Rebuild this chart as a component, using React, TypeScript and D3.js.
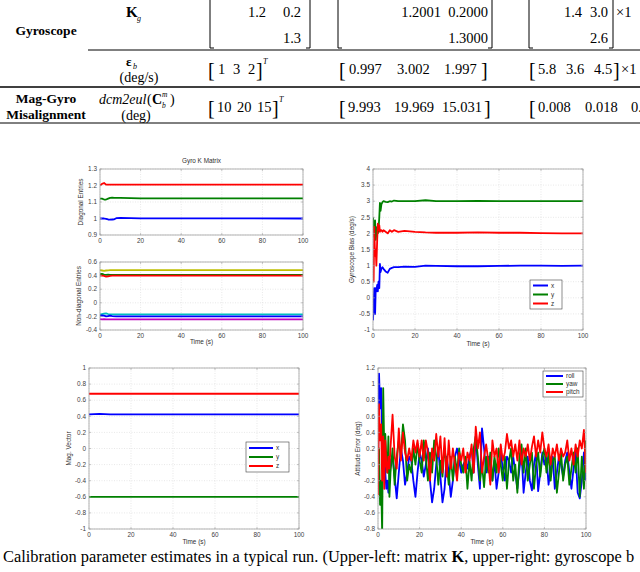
import React from "react";
import * as d3 from "d3";

// ---------- Table content ----------
const tableK1 = ["1.2", "0.2", "1.3"];
const tableK2 = ["1.2001", "0.2000", "1.3000"];
const tableK3 = ["1.4", "3.0", "2.6"];
const epsTrue = ["1", "3", "2"];
const epsEst = ["0.997", "3.002", "1.997"];
const epsErr = ["5.8", "3.6", "4.5"];
const misTrue = ["10", "20", "15"];
const misEst = ["9.993", "19.969", "15.031"];
const misErr = ["0.008", "0.018", "0.0"];
const captionText = ["Calibration parameter estimates in a typical run. (Upper-left: matrix ", "K", ", upper-right: gyroscope b"];

// ---------- Gyro K matrix: diagonal ----------
const diagTime = [0, 1, 2, 3, 4, 5, 6, 7, 8, 10, 15, 20, 100];
const diagBlue = [1.0, 1.0, 1.0, 0.997, 0.994, 0.993, 0.994, 0.995, 1.002, 1.003, 1.002, 1.001, 1.0];
const diagGreen = [1.12, 1.12, 1.115, 1.115, 1.12, 1.125, 1.127, 1.125, 1.125, 1.125, 1.123, 1.122, 1.122];
const diagRed = [1.2, 1.21, 1.215, 1.205, 1.205, 1.205, 1.205, 1.205, 1.205, 1.205, 1.205, 1.205, 1.205];

// ---------- Gyro K matrix: off-diagonal ----------
const offTime = [0, 1, 2, 3, 4, 5, 6, 8, 10, 20, 100];
const offYellow = [0.48, 0.475, 0.47, 0.475, 0.478, 0.48, 0.48, 0.48, 0.48, 0.48, 0.48];
const offGreen = [0.42, 0.425, 0.415, 0.41, 0.415, 0.412, 0.41, 0.41, 0.41, 0.41, 0.41];
const offRed = [0.4, 0.4, 0.395, 0.385, 0.39, 0.395, 0.4, 0.4, 0.4, 0.4, 0.4];
const offCyan = [-0.17, -0.165, -0.16, -0.155, -0.165, -0.17, -0.17, -0.17, -0.17, -0.17, -0.17];
const offBlue = [-0.19, -0.185, -0.19, -0.2, -0.195, -0.19, -0.195, -0.2, -0.2, -0.2, -0.2];
const offMagenta = [-0.24, -0.245, -0.24, -0.245, -0.245, -0.245, -0.245, -0.245, -0.245, -0.245, -0.245];

// ---------- Gyroscope bias ----------
const biasTime = [0, 0.3, 0.6, 1, 1.3, 1.6, 2, 2.3, 2.6, 3, 3.3, 3.6, 4, 4.5, 5, 6, 7, 8, 9, 10, 12, 15, 20, 25, 30, 40, 50, 60, 70, 80, 90, 100];
const biasX = [-0.7, -0.2, 0.3, -0.5, 0.3, 0.2, 0.4, 0.2, 0.5, 0.3, 1.05, 0.8, 0.9, 0.95, 0.9, 0.82, 0.78, 0.9, 0.93, 0.95, 0.95, 0.97, 0.96, 1.0, 0.99, 0.98, 0.98, 0.99, 1.0, 1.0, 0.99, 1.0];
const biasY = [2.5, 2.3, 1.9, 2.4, 1.8, 2.0, 2.2, 2.0, 2.1, 2.5, 2.95, 2.7, 2.9, 2.97, 3.0, 2.98, 2.97, 3.0, 2.99, 3.02, 3.0, 3.0, 3.0, 3.03, 3.0, 3.0, 3.01, 3.0, 3.0, 3.0, 3.0, 3.0];
const biasZ = [1.0, 0.5, 2.2, 1.3, 1.5, 1.0, 1.8, 2.3, 2.1, 2.25, 2.05, 2.1, 2.1, 2.05, 2.1, 2.05, 2.0, 2.1, 2.05, 2.1, 2.05, 2.08, 2.05, 2.03, 2.02, 2.02, 2.03, 2.02, 2.02, 2.01, 2.0, 2.0];

// ---------- Mag vector ----------
const magTime = [0, 5, 10, 100];
const magX = [0.425, 0.43, 0.425, 0.425];
const magY = [-0.6, -0.6, -0.6, -0.6];
const magZ = [0.68, 0.68, 0.68, 0.68];

// ---------- Attitude error ----------
const attTime = [0, 0.5, 1, 1.5, 2, 2.5, 3, 3.5, 4, 4.5, 5, 5.5, 6,
  7, 8, 9, 10, 11, 12, 13, 14, 15, 16, 17, 18, 19, 20, 21, 22, 23, 24, 25, 26, 27, 28, 29, 30,
  31, 32, 33, 34, 35, 36, 37, 38, 39, 40, 41, 42, 43, 44, 45, 46, 47, 48, 49, 50,
  51, 52, 53, 54, 55, 56, 57, 58, 59, 60, 61, 62, 63, 64, 65, 66, 67, 68, 69, 70,
  71, 72, 73, 74, 75, 76, 77, 78, 79, 80, 81, 82, 83, 84, 85, 86, 87, 88, 89, 90,
  91, 92, 93, 94, 95, 96, 97, 98, 99, 100];
const attRoll = [0.0, 1.13, 0.7, 0.95, 0.4, 0.1, 0.3, -0.1, -0.3, -0.2, -0.35, -0.2, 0.05,
  0.1, -0.15, -0.42, -0.1, 0.2, 0.05, -0.25, -0.1, 0.1, 0.05, -0.2, -0.4, -0.1, 0.15, 0.05, -0.15, 0.0, 0.2, -0.2, -0.47, -0.3, 0.0, 0.2, -0.15,
  -0.47, -0.3, 0.1, -0.1, -0.4, -0.2, 0.1, 0.2, 0.05, -0.1, 0.0, 0.05, -0.05, 0.1, 0.2, -0.1, 0.35, 0.0, -0.3, 0.45,
  0.2, -0.1, 0.1, 0.0, -0.2, 0.05, -0.3, -0.1, 0.15, -0.05, -0.2, 0.1, 0.05, -0.1, 0.1, -0.1, -0.3, -0.05, 0.15, -0.35,
  -0.1, 0.1, -0.2, -0.32, 0.0, 0.15, -0.33, -0.1, 0.15, 0.0, 0.1, -0.25, -0.05, 0.1, -0.3, -0.1, 0.1, 0.0, -0.15, 0.05,
  0.15, -0.1, -0.3, -0.05, 0.15, -0.35, -0.42, -0.2, 0.15, -0.2];
const attYaw = [0.0, 0.2, -0.5, -0.2, -0.85, 0.95, 0.2, 0.38, 0.1, -0.1, 0.35, -0.4, -0.1,
  0.2, -0.25, 0.1, 0.3, 0.1, 0.5, 0.3, -0.2, 0.0, -0.1, 0.2, 0.0, 0.25, 0.05, -0.1, 0.3, 0.1, -0.2, 0.15, -0.1, 0.3, 0.1, -0.25, 0.05,
  -0.15, 0.2, 0.0, -0.25, 0.1, -0.2, 0.1, -0.1, 0.2, 0.0, -0.1, 0.1, -0.3, 0.05, -0.2, 0.2, 0.35, 0.1, -0.2, 0.0,
  -0.28, 0.1, -0.1, 0.15, -0.2, 0.1, -0.1, 0.2, 0.0, -0.2, 0.1, -0.3, 0.05, 0.2, -0.2, 0.0, -0.35, 0.1, 0.25, -0.1,
  0.2, -0.2, 0.0, 0.15, -0.3, 0.0, 0.15, -0.15, 0.1, 0.2, -0.1, 0.15, -0.2, 0.05, 0.1, -0.35, -0.1, 0.15, -0.2, 0.0,
  0.1, -0.25, -0.05, 0.15, -0.1, 0.2, -0.4, 0.1, -0.3, 0.3];
const attPitch = [-0.38, 0.75, 0.3, 0.5, -0.2, 0.35, -0.3, 0.3, 0.0, -0.1, 0.1, -0.05, 0.2,
  0.62, 0.1, -0.05, 0.45, 0.05, 0.4, 0.15, 0.05, 0.2, 0.05, 0.3, 0.15, 0.3, 0.1, 0.3, 0.05, 0.3, 0.15, -0.2, 0.2, 0.05, 0.38, 0.1, 0.35,
  -0.1, 0.33, -0.15, 0.3, -0.05, 0.2, 0.0, -0.2, 0.15, 0.05, 0.2, -0.1, 0.15, 0.05, 0.25, -0.1, 0.47, 0.2, 0.4, -0.1,
  0.1, 0.25, 0.05, -0.25, 0.3, 0.1, 0.2, -0.1, 0.25, 0.05, 0.15, 0.38, 0.2, 0.3, 0.1, 0.25, 0.05, 0.3, 0.0, 0.2,
  0.1, 0.25, 0.05, 0.22, 0.35, 0.1, 0.3, 0.15, 0.4, 0.2, 0.1, 0.25, 0.0, 0.2, 0.1, 0.25, 0.05, 0.2, 0.1, 0.15,
  0.3, 0.05, 0.2, 0.0, 0.25, 0.1, 0.3, 0.2, 0.43, -0.1];

const timeTicks = [0, 20, 40, 60, 80, 100];

const C = {
  b: "#0000ff",
  g: "#008000",
  r: "#ff0000",
  c: "#00bfbf",
  m: "#bf00bf",
  y: "#bfbf00",
};

const SANS = "'Liberation Sans', Arial, sans-serif";
const SERIF = "'Liberation Serif', 'Times New Roman', serif";

type Series = { t: number[]; v: number[]; color: string; name?: string };

function Panel(props: {
  x0: number; x1: number; y0: number; y1: number;
  yDomain: [number, number]; yTicks: number[];
  series: Series[]; ylabel?: string; ylabelX?: number; xlabel?: boolean; xlabelY?: number;
  legend?: { x: number; y: number; w: number; h: number; rowH: number; lineLen: number };
  title?: string; lw?: number;
}) {
  const { x0, x1, y0, y1, yDomain, yTicks, series } = props;
  const xs = d3.scaleLinear().domain([0, 100]).range([x0, x1]);
  const ys = d3.scaleLinear().domain(yDomain).range([y1, y0]);
  const fmt = (v: number) => String(+v.toFixed(2));
  const clipId = `clip-${x0}-${y0}`;
  const lw = props.lw ?? 1.8;
  return (
    <g>
      <defs>
        <clipPath id={clipId}>
          <rect x={x0} y={y0} width={x1 - x0} height={y1 - y0} />
        </clipPath>
      </defs>
      <rect x={x0} y={y0} width={x1 - x0} height={y1 - y0} fill="#fff" />
      {timeTicks.map((t) => (
        <line key={"gx" + t} x1={xs(t)} x2={xs(t)} y1={y0} y2={y1} stroke="#d8d8d8" strokeWidth={0.6} strokeDasharray="1,1.5" />
      ))}
      {yTicks.map((t) => (
        <line key={"gy" + t} x1={x0} x2={x1} y1={ys(t)} y2={ys(t)} stroke="#d8d8d8" strokeWidth={0.6} strokeDasharray="1,1.5" />
      ))}
      <g clipPath={`url(#${clipId})`}>
        {series.map((s, i) => {
          const pts = s.t.map((t, k) => [t, s.v[k]] as [number, number]);
          const line = d3.line<[number, number]>().x((d) => xs(d[0])).y((d) => ys(d[1]));
          return <path key={i} d={line(pts) || ""} fill="none" stroke={s.color} strokeWidth={lw} strokeLinejoin="round" />;
        })}
      </g>
      <rect x={x0} y={y0} width={x1 - x0} height={y1 - y0} fill="none" stroke="#a0a0a0" strokeWidth={0.8} />
      {timeTicks.map((t) => (
        <g key={"tx" + t}>
          <line x1={xs(t)} x2={xs(t)} y1={y1} y2={y1 - 2} stroke="#a0a0a0" strokeWidth={0.6} />
          <line x1={xs(t)} x2={xs(t)} y1={y0} y2={y0 + 2} stroke="#a0a0a0" strokeWidth={0.6} />
          <text x={xs(t)} y={y1 + 8} fontSize={6.4} fontFamily={SANS} fill="#404040" textAnchor="middle">{t}</text>
        </g>
      ))}
      {yTicks.map((t) => (
        <g key={"ty" + t}>
          <line x1={x0} x2={x0 + 2} y1={ys(t)} y2={ys(t)} stroke="#a0a0a0" strokeWidth={0.6} />
          <line x1={x1} x2={x1 - 2} y1={ys(t)} y2={ys(t)} stroke="#a0a0a0" strokeWidth={0.6} />
          <text x={x0 - 3} y={ys(t) + 2.2} fontSize={6.4} fontFamily={SANS} fill="#404040" textAnchor="end">{fmt(t)}</text>
        </g>
      ))}
      {props.ylabel && (
        <text transform={`translate(${props.ylabelX},${(y0 + y1) / 2}) rotate(-90)`} fontSize={6.4} fontFamily={SANS} fill="#303030" textAnchor="middle">
          {props.ylabel}
        </text>
      )}
      {props.xlabel && (
        <text x={(x0 + x1) / 2} y={props.xlabelY} fontSize={6.4} fontFamily={SANS} fill="#303030" textAnchor="middle">Time (s)</text>
      )}
      {props.title && (
        <text x={(x0 + x1) / 2} y={y0 - 6} fontSize={6.4} fontFamily={SANS} fill="#303030" textAnchor="middle">{props.title}</text>
      )}
      {props.legend && (
        <g>
          <rect x={props.legend.x} y={props.legend.y} width={props.legend.w} height={props.legend.h} fill="#fff" stroke="#404040" strokeWidth={0.6} />
          {series.filter((s) => s.name).map((s, i) => {
            const L = props.legend!;
            const cy = L.y + L.rowH * (i + 0.5) + (L.h - L.rowH * 3) / 2;
            return (
              <g key={"lg" + i}>
                <line x1={L.x + 3} x2={L.x + 3 + L.lineLen} y1={cy} y2={cy} stroke={s.color} strokeWidth={2} />
                <text x={L.x + 6 + L.lineLen} y={cy + 2.2} fontSize={6.4} fontFamily={SANS} fill="#303030">{s.name}</text>
              </g>
            );
          })}
        </g>
      )}
    </g>
  );
}

function LBracket({ x, y0, y1 }: { x: number; y0: number; y1: number }) {
  return <path d={`M${x + 4},${y0} L${x},${y0} L${x},${y1} L${x + 4},${y1}`} fill="none" stroke="#000" strokeWidth={1} />;
}
function RBracket({ x, y0, y1 }: { x: number; y0: number; y1: number }) {
  return <path d={`M${x - 4},${y0} L${x},${y0} L${x},${y1} L${x - 4},${y1}`} fill="none" stroke="#000" strokeWidth={1} />;
}

function Vec({ xs, y, vals, close, sup, tail }: { xs: number[]; y: number; vals: string[]; close?: number; sup?: boolean; tail?: { x: number; text: string } }) {
  return (
    <g fontFamily={SERIF}>
      <text x={xs[0]} y={y + 3} fontSize={20} fontWeight="300">[</text>
      {vals.map((v, i) => (
        <text key={i} x={xs[i + 1]} y={y} fontSize={14.5}>{v}</text>
      ))}
      {close !== undefined && <text x={close} y={y + 3} fontSize={20}>]</text>}
      {sup && close !== undefined && <text x={close + 7} y={y - 10} fontSize={8} fontStyle="italic">T</text>}
      {tail && <text x={tail.x} y={y} fontSize={14.5}>{tail.text}</text>}
    </g>
  );
}

function Table() {
  return (
    <g fontFamily={SERIF} fill="#000">
      {/* Row K_g */}
      <text x={126} y={17} fontSize={15} fontWeight="bold">K</text>
      <text x={137} y={21} fontSize={8} fontStyle="italic">g</text>
      <text x={46} y={35} fontSize={13.5} fontWeight="bold" textAnchor="middle">Gyroscope</text>
      <LBracket x={210} y0={-10} y1={48} />
      <RBracket x={310} y0={-10} y1={48} />
      <text x={266} y={17} fontSize={14.5} textAnchor="end">{tableK1[0]}</text>
      <text x={301} y={17} fontSize={14.5} textAnchor="end">{tableK1[1]}</text>
      <text x={301} y={43} fontSize={14.5} textAnchor="end">{tableK1[2]}</text>
      <LBracket x={338} y0={-10} y1={48} />
      <RBracket x={492} y0={-10} y1={48} />
      <text x={441} y={17} fontSize={14.5} textAnchor="end">{tableK2[0]}</text>
      <text x={488} y={17} fontSize={14.5} textAnchor="end">{tableK2[1]}</text>
      <text x={488} y={43} fontSize={14.5} textAnchor="end">{tableK2[2]}</text>
      <LBracket x={529} y0={-10} y1={48} />
      <RBracket x={613} y0={-10} y1={48} />
      <text x={582} y={17} fontSize={14.5} textAnchor="end">{tableK3[0]}</text>
      <text x={608} y={17} fontSize={14.5} textAnchor="end">{tableK3[1]}</text>
      <text x={608} y={43} fontSize={14.5} textAnchor="end">{tableK3[2]}</text>
      <text x={616} y={17} fontSize={14.5}>×1</text>
      <line x1={88} x2={640} y1={50} y2={50} stroke="#000" strokeWidth={1} />

      {/* Row eps_b */}
      <text x={126} y={66} fontSize={13} fontWeight="bold">ε</text>
      <text x={133} y={69} fontSize={8} fontStyle="italic">b</text>
      <text x={139} y={82} fontSize={14} textAnchor="middle">(deg/s)</text>
      <Vec xs={[208, 218, 233, 248]} y={74} vals={epsTrue} close={256} sup />
      <Vec xs={[339, 349, 397, 444]} y={74} vals={epsEst} close={481} />
      <Vec xs={[529, 538, 566, 594]} y={74} vals={epsErr} close={613} tail={{ x: 621, text: "×1" }} />
      <line x1={0} x2={640} y1={87} y2={87} stroke="#000" strokeWidth={1.4} />

      {/* Row misalignment */}
      <text x={46} y={103} fontSize={13.5} fontWeight="bold" textAnchor="middle">Mag-Gyro</text>
      <text x={46} y={119} fontSize={13.5} fontWeight="bold" textAnchor="middle">Misalignment</text>
      <text x={99} y={104} fontSize={14} fontStyle="italic">dcm2eul</text>
      <text x={147} y={104} fontSize={14}>(</text>
      <text x={152} y={104} fontSize={14} fontWeight="bold">C</text>
      <text x={162} y={108} fontSize={7.5} fontStyle="italic">b</text>
      <text x={162} y={97} fontSize={7.5} fontStyle="italic">m</text>
      <text x={170} y={104} fontSize={14}>)</text>
      <text x={136} y={120} fontSize={14} textAnchor="middle">(deg)</text>
      <Vec xs={[208, 217, 237, 257]} y={112} vals={misTrue} close={272} sup />
      <Vec xs={[339, 348, 394, 442]} y={112} vals={misEst} close={484} />
      <Vec xs={[529, 538, 585, 631]} y={112} vals={misErr} />
      <line x1={0} x2={640} y1={123} y2={123} stroke="#000" strokeWidth={1} />
    </g>
  );
}

export default function App() {
  return (
    <svg width={640} height={572} style={{ position: "absolute", left: 0, top: 0, background: "#fff" }}>
      <rect width={640} height={572} fill="#fff" />
      <Table />
      <Panel x0={100} x1={303} y0={169} y1={235} yDomain={[0.9, 1.3]} yTicks={[0.9, 1, 1.1, 1.2, 1.3]}
        title="Gyro K Matrix" ylabel="Diagonal Entries" ylabelX={83}
        series={[
          { t: diagTime, v: diagBlue, color: C.b },
          { t: diagTime, v: diagGreen, color: C.g },
          { t: diagTime, v: diagRed, color: C.r },
        ]} />
      <Panel x0={100} x1={303} y0={262} y1={330} yDomain={[-0.4, 0.6]} yTicks={[-0.4, -0.2, 0, 0.2, 0.4, 0.6]}
        ylabel="Non-diagonal Entries" ylabelX={81} xlabel xlabelY={344}
        series={[
          { t: offTime, v: offYellow, color: C.y },
          { t: offTime, v: offGreen, color: C.g },
          { t: offTime, v: offRed, color: C.r },
          { t: offTime, v: offCyan, color: C.c },
          { t: offTime, v: offBlue, color: C.b },
          { t: offTime, v: offMagenta, color: C.m },
        ]} />
      <Panel x0={373} x1={583} y0={169} y1={330} yDomain={[-1, 4]} yTicks={[-1, -0.5, 0, 0.5, 1, 1.5, 2, 2.5, 3, 3.5, 4]}
        ylabel="Gyroscope Bias (deg/s)" ylabelX={354} xlabel xlabelY={346}
        legend={{ x: 530, y: 280, w: 32, h: 29, rowH: 9, lineLen: 15 }}
        series={[
          { t: biasTime, v: biasX, color: C.b, name: "x" },
          { t: biasTime, v: biasY, color: C.g, name: "y" },
          { t: biasTime, v: biasZ, color: C.r, name: "z" },
        ]} />
      <Panel x0={89} x1={299} y0={368} y1={529} yDomain={[-1, 1]} yTicks={[-1, -0.8, -0.6, -0.4, -0.2, 0, 0.2, 0.4, 0.6, 0.8, 1]}
        ylabel="Mag. Vector" ylabelX={71} xlabel xlabelY={544}
        legend={{ x: 246, y: 442, w: 43, h: 30, rowH: 9, lineLen: 24 }}
        series={[
          { t: magTime, v: magX, color: C.b, name: "x" },
          { t: magTime, v: magY, color: C.g, name: "y" },
          { t: magTime, v: magZ, color: C.r, name: "z" },
        ]} />
      <Panel x0={378} x1={586} y0={368} y1={529} yDomain={[-0.8, 1.2]} yTicks={[-0.8, -0.6, -0.4, -0.2, 0, 0.2, 0.4, 0.6, 0.8, 1, 1.2]}
        ylabel="Attitude Error (deg)" ylabelX={360} xlabel xlabelY={544}
        legend={{ x: 543, y: 371, w: 40, h: 26, rowH: 8, lineLen: 17 }}
        series={[
          { t: attTime, v: attRoll, color: C.b, name: "roll" },
          { t: attTime, v: attYaw, color: C.g, name: "yaw" },
          { t: attTime, v: attPitch, color: C.r, name: "pitch" },
        ]} />
      <text x={3} y={562} fontFamily={SERIF} fontSize={16.4} fill="#000">
        {captionText[0]}
        <tspan fontWeight="bold">{captionText[1]}</tspan>
        {captionText[2]}
      </text>
    </svg>
  );
}
